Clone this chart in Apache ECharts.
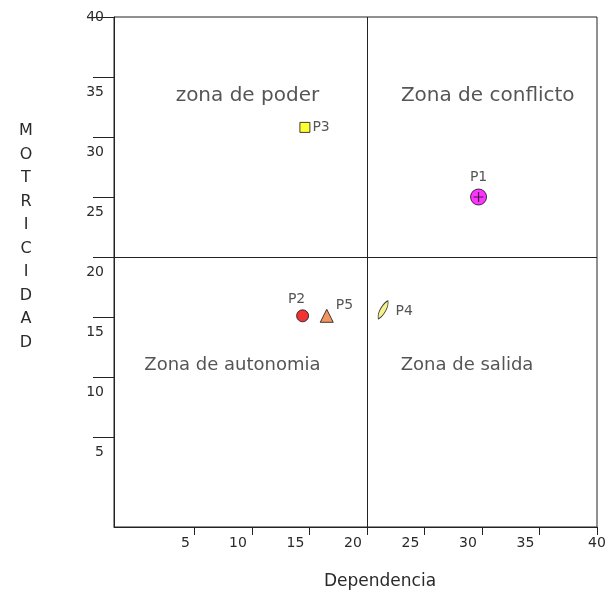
<!DOCTYPE html>
<html>
<head>
<meta charset="utf-8">
<script src="https://cdn.jsdelivr.net/npm/echarts@6/dist/echarts.min.js"></script>
<style>
html,body{margin:0;padding:0;background:#fff;}
#chart{width:610px;height:595px;}
</style>
</head>
<body>
<div id="chart"></div>
<script>
// ---- data ----
const pointNames = ['P1', 'P2', 'P3', 'P4', 'P5'];
const dependencia = [29.7, 14.4, 14.6, 21.4, 16.5];
const motricidad = [25.0, 15.1, 30.8, 15.6, 15.1];

const zoneNames = ['zona de poder', 'Zona de conflicto', 'Zona de autonomia', 'Zona de salida'];
const zoneX = [9.6, 30.5, 8.3, 28.7];
const zoneY = [33.4, 33.4, 11.0, 11.0];

const xTicks = [5, 10, 15, 20, 25, 30, 35, 40];
const yTicks = [5, 10, 15, 20, 25, 30, 35, 40];
const midX = 20;
const midY = 20;

const xAxisName = 'Dependencia';
const yAxisName = 'MOTRICIDAD';

// ---- styles ----
const FONT = 'DejaVu Sans';
const TXT = '#2a2a2a';
const zoneFontSize = [20, 20, 18, 18];
const pointStyle = {
  P1: { symbol: 'circle', symbolSize: 16, color: '#ff00ff', label: { position: 'top', distance: 4 } },
  P2: { symbol: 'circle', symbolSize: 12, color: '#ee0000', label: { position: 'top', distance: 3, offset: [-6, 0] } },
  P3: { symbol: 'rect', symbolSize: 10, color: '#ffff00', label: { position: 'right', distance: 2 } },
  P4: { symbol: 'path://M1,17 C0,11 5,2 9,0 C10,6 5,15 1,17 Z', symbolSize: [10, 18], color: '#f2ee70', label: { position: 'right', distance: 7, offset: [0, 2] } },
  P5: { symbol: 'triangle', symbolSize: 13, color: '#f07a3a', label: { position: 'right', distance: 2, offset: [0, -10] } }
};

const pointData = pointNames.map((n, i) => {
  const s = pointStyle[n];
  return {
    name: n,
    value: [dependencia[i], motricidad[i]],
    symbol: s.symbol,
    symbolSize: s.symbolSize,
    itemStyle: { color: s.color, borderColor: '#111', borderWidth: 1 },
    label: Object.assign({ show: true, formatter: n, color: TXT, fontFamily: FONT, fontSize: 14 }, s.label)
  };
});

const chart = echarts.init(document.getElementById('chart'), null, { renderer: 'canvas' });
chart.setOption({
  animation: false,
  backgroundColor: '#fff',
  grid: { left: 114, right: 13, top: 17, bottom: 65, show: true, borderColor: '#222', borderWidth: 1, backgroundColor: 'transparent' },
  xAxis: {
    type: 'value', min: -2, max: 40,
    name: xAxisName, nameLocation: 'middle', nameGap: 46,
    nameTextStyle: { color: TXT, fontFamily: FONT, fontSize: 17, padding: [0, 0, 0, 49] },
    axisLine: { show: true, onZero: false, lineStyle: { color: '#222', width: 1 } },
    axisTick: { show: true, customValues: xTicks, length: 8, inside: false, lineStyle: { color: '#222' } },
    axisLabel: {
      customValues: xTicks, margin: 9, color: TXT, fontFamily: FONT, fontSize: 14,
      formatter: v => v === 40 ? '{c|40}' : (v < 10 ? '{s|' + v + '}' : '{r|' + v + '}'),
      rich: {
        c: { fontFamily: FONT, fontSize: 14, color: TXT, padding: [0, 0, 6, 0] },
        s: { fontFamily: FONT, fontSize: 14, color: TXT, padding: [0, 18, 0, 0] },
        r: { fontFamily: FONT, fontSize: 14, color: TXT, padding: [0, 28, 0, 0] }
      }
    },
    splitLine: { show: false }
  },
  yAxis: {
    type: 'value', min: -2.5, max: 40,
    name: yAxisName.split('').join('\n') + '\n \n \n ', nameLocation: 'middle', nameGap: 88, nameRotate: 0,
    nameTextStyle: { color: TXT, fontFamily: FONT, fontSize: 16, lineHeight: 23.5, align: 'center', verticalAlign: 'middle' },
    axisLine: { show: true, onZero: false, lineStyle: { color: '#222', width: 1 } },
    axisTick: { show: true, customValues: yTicks, length: 21, inside: false, lineStyle: { color: '#222' } },
    axisLabel: {
      customValues: yTicks, margin: 10, color: TXT, fontFamily: FONT, fontSize: 14,
      formatter: v => v === 40 ? '{t|40}' : '{b|' + v + '}',
      rich: {
        t: { fontFamily: FONT, fontSize: 14, color: TXT },
        b: { fontFamily: FONT, fontSize: 14, color: TXT, padding: [30, 0, 0, 0] }
      }
    },
    splitLine: { show: false }
  },
  series: [
    {
      type: 'scatter',
      name: 'zones',
      symbol: 'circle',
      symbolSize: 1,
      itemStyle: { color: 'rgba(0,0,0,0)' },
      silent: true,
      data: zoneNames.map((n, i) => ({
        name: n, value: [zoneX[i], zoneY[i]],
        label: { fontSize: zoneFontSize[i] }
      })),
      label: {
        show: true, position: 'inside', formatter: p => p.name,
        color: TXT, fontFamily: FONT, fontSize: 18
      },
      markLine: {
        silent: true, symbol: ['none', 'none'], animation: false,
        label: { show: false },
        lineStyle: { color: '#222', width: 1, type: 'solid' },
        data: [{ xAxis: midX }, { yAxis: midY }]
      },
      z: 1
    },
    {
      type: 'scatter',
      name: 'points',
      data: pointData,
      z: 3
    },
    {
      type: 'scatter',
      name: 'P1 cross',
      silent: true,
      symbol: 'path://M0,4.4 H10 V5.6 H0 Z M4.4,0 H5.6 V10 H4.4 Z',
      symbolSize: 10,
      itemStyle: { color: '#111' },
      data: [[dependencia[0], motricidad[0]]],
      z: 4
    }
  ]
});
</script>
</body>
</html>
